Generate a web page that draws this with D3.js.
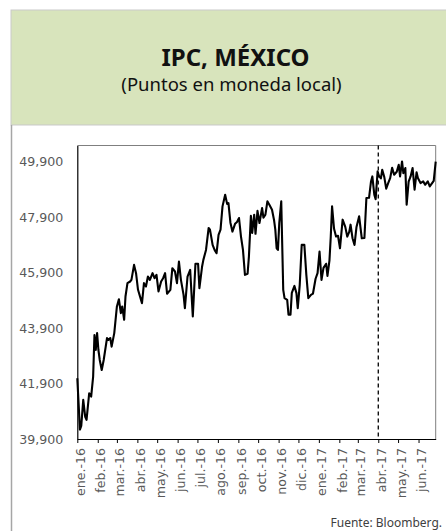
<!DOCTYPE html>
<html><head><meta charset="utf-8">
<script src="https://cdn.jsdelivr.net/npm/d3@7"></script>
<style>
html,body{margin:0;padding:0;background:#fff;}
svg{display:block;}
</style></head>
<body>
<svg id="c" width="446" height="531"></svg>
<script>
const title = "IPC, MÉXICO";
const subtitle = "(Puntos en moneda local)";
const source = "Fuente: Bloomberg.";
const yTicks = [39900, 41900, 43900, 45900, 47900, 49900];
const monthTicks = ["2016-01-01","2016-02-01","2016-03-01","2016-04-01","2016-05-01","2016-06-01","2016-07-01","2016-08-01","2016-09-01","2016-10-01","2016-11-01","2016-12-01","2017-01-01","2017-02-01","2017-03-01","2017-04-01","2017-05-01","2017-06-01"];
const monthLabels = ["ene.-16","feb.-16","mar.-16","abr.-16","may.-16","jun.-16","jul.-16","ago.-16","sep.-16","oct.-16","nov.-16","dic.-16","ene.-17","feb.-17","mar.-17","abr.-17","may.-17","jun.-17"];
const markerDate = "2017-04-01";
const dates = ["2016-01-01","2016-01-05","2016-01-07","2016-01-10","2016-01-13","2016-01-15","2016-01-19","2016-01-22","2016-01-25","2016-01-27","2016-01-29","2016-01-31","2016-02-02","2016-02-04","2016-02-07","2016-02-10","2016-02-15","2016-02-17","2016-02-20","2016-02-22","2016-02-26","2016-03-01","2016-03-04","2016-03-07","2016-03-09","2016-03-12","2016-03-14","2016-03-17","2016-03-21","2016-03-23","2016-03-27","2016-03-30","2016-04-02","2016-04-08","2016-04-11","2016-04-14","2016-04-17","2016-04-20","2016-04-24","2016-04-27","2016-04-30","2016-05-03","2016-05-07","2016-05-10","2016-05-13","2016-05-16","2016-05-21","2016-05-24","2016-05-28","2016-05-31","2016-06-03","2016-06-06","2016-06-10","2016-06-12","2016-06-16","2016-06-20","2016-06-24","2016-06-28","2016-07-02","2016-07-04","2016-07-08","2016-07-10","2016-07-14","2016-07-18","2016-07-20","2016-07-24","2016-07-27","2016-07-30","2016-08-02","2016-08-05","2016-08-08","2016-08-12","2016-08-15","2016-08-17","2016-08-20","2016-08-23","2016-08-27","2016-08-30","2016-09-02","2016-09-05","2016-09-08","2016-09-11","2016-09-15","2016-09-17","2016-09-20","2016-09-22","2016-09-25","2016-09-27","2016-09-30","2016-10-03","2016-10-07","2016-10-09","2016-10-12","2016-10-15","2016-10-18","2016-10-22","2016-10-25","2016-10-27","2016-10-29","2016-10-31","2016-11-02","2016-11-05","2016-11-08","2016-11-10","2016-11-14","2016-11-16","2016-11-19","2016-11-21","2016-11-25","2016-11-28","2016-11-30","2016-12-03","2016-12-06","2016-12-10","2016-12-13","2016-12-16","2016-12-20","2016-12-23","2016-12-27","2016-12-30","2017-01-02","2017-01-05","2017-01-08","2017-01-12","2017-01-14","2017-01-17","2017-01-19","2017-01-21","2017-01-24","2017-01-27","2017-01-30","2017-02-02","2017-02-06","2017-02-10","2017-02-13","2017-02-16","2017-02-18","2017-02-21","2017-02-24","2017-02-27","2017-03-03","2017-03-07","2017-03-11","2017-03-14","2017-03-18","2017-03-21","2017-03-23","2017-03-26","2017-03-28","2017-03-31","2017-04-02","2017-04-05","2017-04-07","2017-04-10","2017-04-13","2017-04-16","2017-04-19","2017-04-22","2017-04-25","2017-04-29","2017-05-02","2017-05-04","2017-05-07","2017-05-09","2017-05-12","2017-05-14","2017-05-17","2017-05-20","2017-05-23","2017-05-26","2017-05-29","2017-05-31","2017-06-04","2017-06-08","2017-06-11","2017-06-15","2017-06-18","2017-06-21","2017-06-24","2017-06-27"];
const values = [42090,40240,40370,41310,40700,40590,41550,41430,42150,43650,43110,43720,43110,42750,42390,42750,43540,43470,43540,43230,43720,44680,44940,44440,44680,44200,45040,45520,45580,45640,46180,45880,45280,44800,45520,45400,45760,45640,45880,45700,45820,45220,45580,45700,45880,45140,45280,46060,45940,45520,46300,45640,45100,44620,45760,46000,44320,46220,46220,45340,46110,46360,46720,47510,47450,46900,46720,46600,47260,47450,48290,48710,48380,48410,47700,47380,47660,47730,47870,47200,46720,45820,45860,46480,47950,47330,47990,47300,48130,47690,48230,47880,47990,48470,48350,48170,47810,47450,46780,46720,47690,48470,45280,44980,44920,44380,44380,45170,45420,45160,44620,45460,46900,46900,45820,44980,45100,45140,45680,45880,46660,45640,46070,46220,45780,46330,47190,48290,47480,47200,47230,46780,47810,47550,47200,47370,47630,47140,46900,47550,47930,47140,47150,48590,48600,49190,49370,48710,48550,49550,49390,49300,49610,49360,48930,49130,49310,49680,49430,49540,49790,49370,49910,49490,49670,48350,49180,49370,49670,48890,49520,49310,49130,49190,49070,49190,49010,49110,49210,49900];

const parse = d3.utcParse("%Y-%m-%d");
const data = dates.map((d,i)=>({date:parse(d), value:values[i]}));

const svg = d3.select("#c");
const L = 77.3, R = 435.7, T = 145.5, B = 439;

// header
svg.append("rect").attr("x",11).attr("y",10).attr("width",440).attr("height",115)
  .attr("fill","#d8e4bc").attr("stroke","#c9c9c9").attr("stroke-width",1);
svg.append("text").attr("x",235.5).attr("y",66).attr("text-anchor","middle")
  .attr("font-family","'Noto Sans'").attr("font-weight",700).attr("font-size",24)
  .attr("fill","#111").text(title);
svg.append("text").attr("x",231.5).attr("y",90.5).attr("text-anchor","middle")
  .attr("font-family","'Noto Sans'").attr("font-size",18.5)
  .attr("fill","#111").text(subtitle);
// left page line
svg.append("line").attr("x1",11.5).attr("x2",11.5).attr("y1",125).attr("y2",531)
  .attr("stroke","#a6a6a6").attr("stroke-width",1.5);

const x = d3.scaleUtc().domain([parse(dates[0]), parse(dates[dates.length-1])]).range([L,R]);
const y = d3.scaleLinear().domain([39900, 50485]).range([B,T]);

// frame top/right
svg.append("path").attr("d",`M${L},${T}H${R}V${B}`).attr("fill","none")
  .attr("stroke","#7f7f7f").attr("stroke-width",1);

// y labels
const yAxis = d3.axisLeft(y).tickValues(yTicks).tickFormat(d3.format(",")).tickSize(0).tickPadding(14);
const gy = svg.append("g").attr("transform",`translate(${L},0)`).call(yAxis);
gy.select(".domain").attr("stroke","#000").attr("stroke-width",1.2);
gy.selectAll("text").attr("font-family","'DejaVu Sans'").attr("font-size",12.6).attr("fill","#595959");

// x axis
const xAxis = d3.axisBottom(x).tickValues(monthTicks.map(parse))
  .tickFormat((d,i)=>monthLabels[i]).tickSize(4).tickSizeOuter(0).tickPadding(0);
const gx = svg.append("g").attr("transform",`translate(0,${B})`).call(xAxis);
gx.select(".domain").attr("stroke","#000").attr("stroke-width",1.2);
gx.selectAll(".tick line").attr("stroke","#000");
gx.selectAll("text").attr("font-family","'DejaVu Sans'").attr("font-size",12.6).attr("fill","#595959")
  .attr("text-anchor","end").attr("transform","translate(0,9) rotate(-90)")
  .attr("x",0).attr("y",0).attr("dy","0.55em");

// dashed marker
svg.append("line").attr("x1",x(parse(markerDate))).attr("x2",x(parse(markerDate)))
  .attr("y1",T).attr("y2",B).attr("stroke","#000").attr("stroke-width",1.3)
  .attr("stroke-dasharray","4,3");

// series line
svg.append("path").datum(data)
  .attr("d", d3.line().x(d=>x(d.date)).y(d=>y(d.value)))
  .attr("fill","none").attr("stroke","#000").attr("stroke-width",2.1)
  .attr("stroke-linejoin","round");

// source
svg.append("text").attr("x",442).attr("y",527).attr("text-anchor","end")
  .attr("font-family","'Noto Sans'").attr("font-size",12).attr("fill","#404040").text(source);
</script>
</body></html>
